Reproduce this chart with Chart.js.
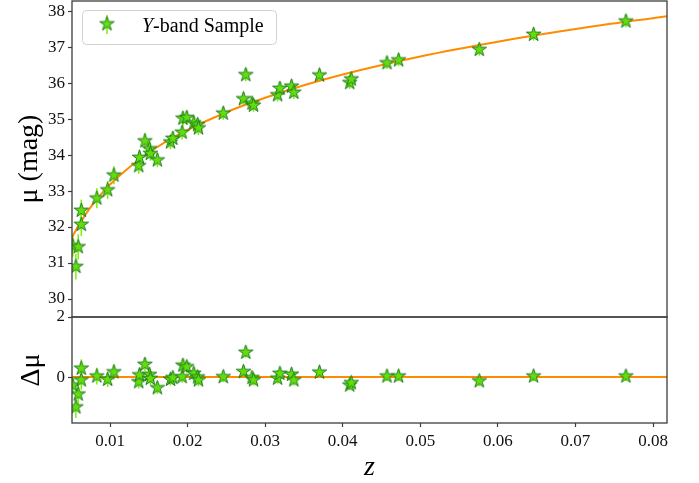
<!DOCTYPE html>
<html>
<head>
<meta charset="utf-8">
<script src="https://cdn.jsdelivr.net/npm/chart.js@4.4.1/dist/chart.umd.min.js"></script>
<style>
  html, body { margin: 0; padding: 0; background: #fff; }
  #wrap { position: relative; width: 699px; height: 483px; overflow: hidden; }
  #hubble { position: absolute; left: 0; top: -16px; }
  #resid { position: absolute; left: 0; top: 300px; }
</style>
</head>
<body>
<div id="wrap">
  <canvas id="hubble" width="699" height="350"></canvas>
  <canvas id="resid" width="699" height="183"></canvas>
</div>
<script>
// Y-band sample: redshift, distance modulus, its error and Hubble residual
const zSample = [0.0052, 0.0056, 0.0059, 0.0063, 0.0063, 0.0083, 0.0097, 0.0105, 0.0137, 0.0138,
                 0.0145, 0.0151, 0.0152, 0.0161, 0.0178, 0.0181, 0.0193, 0.0194, 0.0199, 0.0208,
                 0.0213, 0.0214, 0.0246, 0.0272, 0.0275, 0.0283, 0.0285, 0.0316, 0.0319, 0.0334,
                 0.0337, 0.0370, 0.0409, 0.0411, 0.0457, 0.0472, 0.0576, 0.0646, 0.0765];
const muSample = [31.48, 30.90, 31.45, 32.07, 32.46, 32.80, 33.03, 33.44, 33.70, 33.93,
                  34.39, 34.17, 34.04, 33.86, 34.36, 34.46, 34.63, 35.02, 35.04, 34.89,
                  34.84, 34.75, 35.16, 35.56, 36.23, 35.44, 35.38, 35.67, 35.85, 35.91,
                  35.74, 36.22, 36.01, 36.11, 36.56, 36.64, 36.93, 37.35, 37.72];
const muErr = [0.30, 0.36, 0.35, 0.32, 0.30, 0.28, 0.25, 0.25, 0.22, 0.22,
               0.22, 0.20, 0.20, 0.20, 0.20, 0.20, 0.20, 0.20, 0.20, 0.20,
               0.20, 0.20, 0.18, 0.18, 0.18, 0.18, 0.18, 0.18, 0.18, 0.18,
               0.18, 0.18, 0.17, 0.17, 0.17, 0.17, 0.17, 0.17, 0.17];
const dmuSample = [-0.27, -1.00, -0.57, -0.10, 0.29, 0.03, -0.08, 0.17, -0.16, 0.07,
                   0.42, 0.08, -0.05, -0.36, -0.08, -0.02, 0.01, 0.39, 0.34, 0.12,
                   0.00, -0.10, 0.01, 0.18, 0.82, -0.02, -0.10, -0.04, 0.12, 0.09,
                   -0.10, 0.16, -0.27, -0.19, 0.03, 0.03, -0.13, 0.03, 0.03];

// best-fit Hubble curve
const zModel = [0.0051, 0.0055, 0.006, 0.0065, 0.007, 0.008, 0.009, 0.010, 0.012, 0.014, 0.016,
                0.018, 0.020, 0.025, 0.030, 0.035, 0.040, 0.050, 0.060, 0.070, 0.0818];
const muModel = [31.71, 31.87, 32.06, 32.23, 32.40, 32.69, 32.95, 33.18, 33.57, 33.91, 34.21,
                 34.47, 34.70, 35.19, 35.59, 35.94, 36.24, 36.74, 37.15, 37.50, 37.86];

const zRange = [0.0051, 0.0818];
const muRange = [29.5, 38.28];
const dmuRange = [-1.53, 2];
const zTicks = [0.01, 0.02, 0.03, 0.04, 0.05, 0.06, 0.07, 0.08];
const muTicks = [30, 31, 32, 33, 34, 35, 36, 37, 38];
const dmuTicks = [0, 2];

const FONT = '"Liberation Serif", "Times New Roman", serif';
const STAR_FILL = '#62de0c';
const STAR_EDGE = '#1e7b1e';
const ERR_COLOR = '#7cf000';
const LINE_COLOR = '#ff8c00';
const FRAME_COLOR = '#3c3c3c';

// filled five-pointed star used as the point marker
function makeStar(r) {
    const size = Math.ceil(r * 2 + 3);
    const c = document.createElement('canvas');
    c.width = size;
    c.height = size;
    const g = c.getContext('2d');
    const cx = size / 2, cy = size / 2;
    g.beginPath();
    for (let k = 0; k < 10; k++) {
        const rad = k % 2 === 0 ? r : r * 0.382;
        const a = -Math.PI / 2 + k * Math.PI / 5;
        g.lineTo(cx + rad * Math.cos(a), cy + rad * Math.sin(a));
    }
    g.closePath();
    g.fillStyle = STAR_FILL;
    g.fill();
    g.lineWidth = 1;
    g.strokeStyle = STAR_EDGE;
    g.stroke();
    return c;
}
const star = makeStar(7.6);

// vertical error bars under the sample points
const errorBars = {
    id: 'errorBars',
    beforeDatasetsDraw(chart, args, opts) {
        const meta = chart.getDatasetMeta(0);
        const ds = chart.data.datasets[0];
        const ys = chart.scales.y;
        const { ctx, chartArea: a } = chart;
        ctx.save();
        ctx.beginPath();
        ctx.rect(a.left, a.top, a.right - a.left, a.bottom - a.top);
        ctx.clip();
        ctx.strokeStyle = ERR_COLOR;
        ctx.lineWidth = 1.5;
        meta.data.forEach((pt, i) => {
            const v = ds.data[i].y, e = opts.errors[i];
            ctx.beginPath();
            ctx.moveTo(pt.x, ys.getPixelForValue(v + e));
            ctx.lineTo(pt.x, ys.getPixelForValue(v - e));
            ctx.stroke();
        });
        ctx.restore();
    }
};

// box around the plotting area
const frame = {
    id: 'frame',
    afterDraw(chart) {
        const { ctx, chartArea: a } = chart;
        ctx.save();
        ctx.strokeStyle = FRAME_COLOR;
        ctx.lineWidth = 1.3;
        ctx.strokeRect(a.left, a.top, a.right - a.left, a.bottom - a.top);
        ctx.restore();
    }
};

// legend box in the upper left corner of the plot
const sampleLegend = {
    id: 'sampleLegend',
    afterDraw(chart) {
        const { ctx, chartArea: a } = chart;
        const x = a.left + 10.5, y = a.top + 9.5, w = 194, h = 34, r = 4;
        ctx.save();
        ctx.beginPath();
        ctx.moveTo(x + r, y);
        ctx.arcTo(x + w, y, x + w, y + h, r);
        ctx.arcTo(x + w, y + h, x, y + h, r);
        ctx.arcTo(x, y + h, x, y, r);
        ctx.arcTo(x, y, x + w, y, r);
        ctx.closePath();
        ctx.fillStyle = 'rgba(255,255,255,0.8)';
        ctx.fill();
        ctx.strokeStyle = '#d2d2d2';
        ctx.lineWidth = 1;
        ctx.stroke();

        const mx = x + 24.5, my = y + 13.5;
        ctx.strokeStyle = ERR_COLOR;
        ctx.lineWidth = 1.5;
        ctx.beginPath();
        ctx.moveTo(mx, my - 9);
        ctx.lineTo(mx, my + 10);
        ctx.stroke();
        ctx.drawImage(star, mx - star.width / 2, my - star.height / 2);

        ctx.fillStyle = '#000';
        ctx.textBaseline = 'alphabetic';
        ctx.font = `italic 20px ${FONT}`;
        ctx.fillText('Y', x + 59.5, y + 21);
        const wy = ctx.measureText('Y').width;
        ctx.font = `20px ${FONT}`;
        ctx.fillText('-band Sample', x + 59.5 + wy, y + 21);
        ctx.restore();
    }
};

function yAxis(range, ticks, title, titlePad) {
    return {
        type: 'linear',
        position: 'left',
        min: range[0],
        max: range[1],
        afterFit(s) { s.width = 72; },
        afterBuildTicks(s) { s.ticks = ticks.map(v => ({ value: v })); },
        grid: { drawOnChartArea: false, drawTicks: true, tickLength: 4, tickWidth: 1.2, tickColor: FRAME_COLOR },
        border: { display: false },
        ticks: { padding: 3, color: '#111', font: { family: FONT, size: 17 }, callback: v => String(v) },
        title: { display: true, text: title, color: '#000', font: { family: FONT, size: 28 }, padding: { top: titlePad, bottom: 0 } }
    };
}

const common = {
    responsive: false,
    animation: false,
    devicePixelRatio: 1,
    events: [],
    plugins: { legend: { display: false }, tooltip: { enabled: false } }
};

new Chart(document.getElementById('hubble'), {
    type: 'scatter',
    data: {
        datasets: [{
            label: 'Y-band Sample',
            data: zSample.map((z, i) => ({ x: z, y: muSample[i] })),
            pointStyle: star,
            pointRadius: 7,
            clip: 0,
            order: 0
        }, {
            label: 'fit',
            data: zModel.map((z, i) => ({ x: z, y: muModel[i] })),
            showLine: true,
            borderColor: LINE_COLOR,
            borderWidth: 2,
            pointRadius: 0,
            cubicInterpolationMode: 'monotone',
            clip: 0,
            order: 1
        }]
    },
    options: {
        ...common,
        // the canvas sits 16px above the page, so this puts the plot at y = 1..317
        layout: { padding: { top: 17, right: 32, bottom: 17, left: 0 } },
        plugins: { ...common.plugins, errorBars: { errors: muErr } },
        scales: {
            x: { type: 'linear', min: zRange[0], max: zRange[1], display: false },
            y: yAxis(muRange, muTicks, 'μ (mag)', 13)
        }
    },
    plugins: [errorBars, frame, sampleLegend]
});

new Chart(document.getElementById('resid'), {
    type: 'scatter',
    data: {
        datasets: [{
            label: 'residual',
            data: zSample.map((z, i) => ({ x: z, y: dmuSample[i] })),
            pointStyle: star,
            pointRadius: 7,
            clip: 0,
            order: 0
        }, {
            label: 'zero',
            data: zRange.map(z => ({ x: z, y: 0 })),
            showLine: true,
            borderColor: LINE_COLOR,
            borderWidth: 2,
            pointRadius: 0,
            clip: 0,
            order: 1
        }]
    },
    options: {
        ...common,
        // canvas starts at y = 300, plot spans y = 317..423
        layout: { padding: { top: 17, right: 32, bottom: 0, left: 0 } },
        plugins: { ...common.plugins, errorBars: { errors: muErr } },
        scales: {
            x: {
                type: 'linear',
                position: 'bottom',
                min: zRange[0],
                max: zRange[1],
                afterFit(s) { s.height = 60; },
                afterBuildTicks(s) { s.ticks = zTicks.map(v => ({ value: v })); },
                grid: { drawOnChartArea: false, drawTicks: true, tickLength: 4, tickWidth: 1.2, tickColor: FRAME_COLOR },
                border: { display: false },
                ticks: { padding: 4, autoSkip: false, maxRotation: 0, color: '#111', font: { family: FONT, size: 17 }, callback: v => v.toFixed(2) },
                title: { display: true, text: 'z', color: '#000', font: { family: FONT, size: 28, style: 'italic', lineHeight: 1 }, padding: { top: 0, bottom: 1 } }
            },
            y: yAxis(dmuRange, dmuTicks, 'Δμ', 15)
        }
    },
    plugins: [errorBars, frame]
});
</script>
</body>
</html>
